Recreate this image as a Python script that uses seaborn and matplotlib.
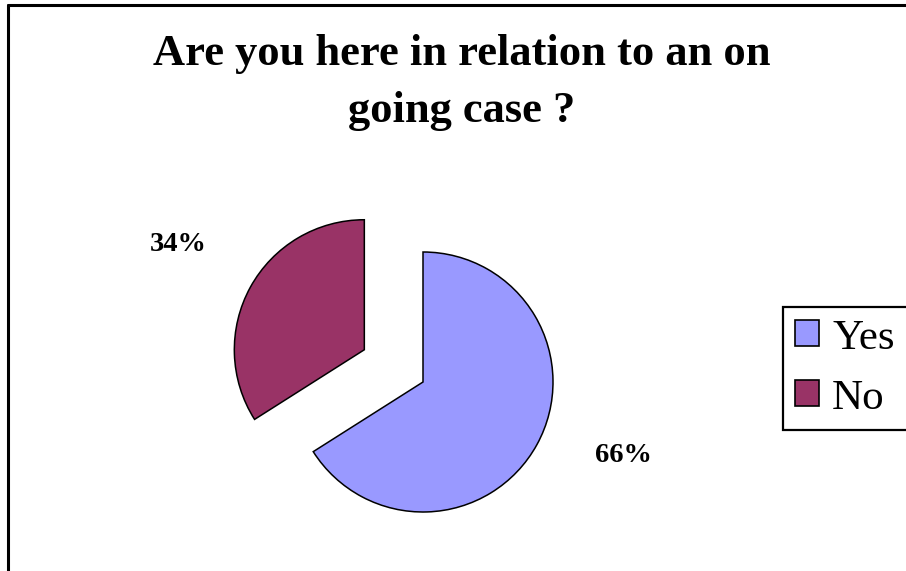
import matplotlib
matplotlib.use("Agg")
import matplotlib.pyplot as plt
import seaborn as sns
from matplotlib.patches import Patch
from matplotlib.lines import Line2D

# Survey answers
categories = ["Yes", "No"]
shares = [66, 34]
colors = ["#9999FF", "#993366"]
title_lines = ["Are you here in relation to an on", "going case ?"]

sns.set_style("white")
plt.rcParams["font.family"] = ["Liberation Serif", "DejaVu Serif"]
plt.rcParams["text.color"] = "black"

W, H = 906, 571
fig = plt.figure(figsize=(W / 100, H / 100), dpi=100)

# axes spanning the whole figure, one data unit = one pie radius
R = 130.0
cx, cy = 423.0, 382.0
ax = fig.add_axes([0, 0, 1, 1])

wedges, _ = ax.pie(
    shares,
    colors=colors,
    startangle=90,
    counterclock=False,
    explode=[0, 0.515],
    radius=1,
    center=(0, 0),
    wedgeprops=dict(edgecolor="black", linewidth=1.1),
)
ax.set_xlim(-cx / R, (W - cx) / R)
ax.set_ylim(-(H - cy) / R, cy / R)
ax.set_aspect("equal")
ax.axis("off")

# percentage labels
label_pos = {"Yes": (1.545, -0.562), "No": (-1.88, 1.054)}
for cat, val in zip(categories, shares):
    x, y = label_pos[cat]
    ax.text(x, y, f"{val}%", ha="center", va="center",
            fontsize=20.5, fontweight="bold", color="black")

# two-line title
for line, base in zip(title_lines, (65, 122)):
    fig.text(462 / W, 1 - base / H, line, ha="center", va="baseline",
             fontsize=32, fontweight="bold", color="black")

handles = [Patch(facecolor=c, edgecolor="black", linewidth=1.2) for c in colors]
leg = fig.legend(
    handles, categories,
    loc="upper left",
    bbox_to_anchor=(783 / W, 1 - 428 / H, 0.2, 121 / H),
    mode="expand",
    frameon=True, fancybox=False, shadow=False,
    edgecolor="black", framealpha=1,
    fontsize=31,
    handlelength=0.56, handleheight=0.56,
    handletextpad=0.3, labelspacing=0.5,
    borderpad=0.28, borderaxespad=0,
)
leg.get_frame().set_linewidth(1.6)
for t in leg.get_texts():
    t.set_color("black")

# chart border
fig.add_artist(Line2D([7.5 / W, 7.5 / W], [0, 1 - 4.5 / H],
                      transform=fig.transFigure, color="black", lw=2.2))
fig.add_artist(Line2D([7.5 / W, 1], [1 - 4.5 / H, 1 - 4.5 / H],
                      transform=fig.transFigure, color="black", lw=2.2))

fig.savefig("out.png", dpi=100)
